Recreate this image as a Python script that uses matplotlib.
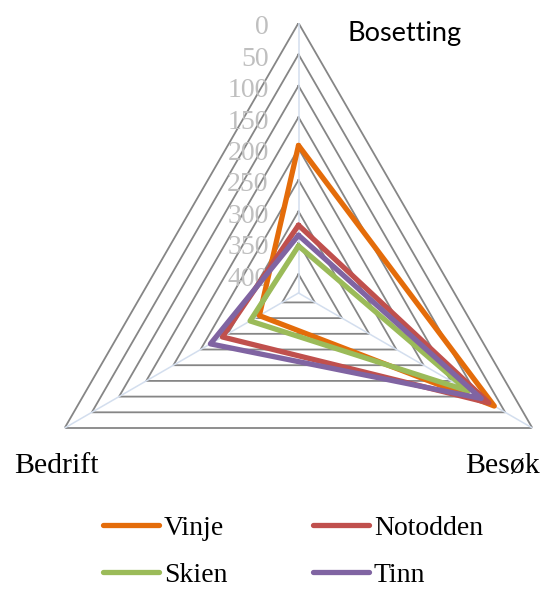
import numpy as np
import matplotlib
matplotlib.use("Agg")
import matplotlib.pyplot as plt

CATEGORIES = ["Bosetting", "Besøk", "Bedrift"]
SERIES = ["Vinje", "Notodden", "Skien", "Tinn"]
VINJE = [195, 70, 358]
NOTODDEN = [322, 80, 290]
SKIEN = [355, 118, 341]
TINN = [338, 94, 268]
TICKS = [0, 50, 100, 150, 200, 250, 300, 350, 400]
AXIS_MAX = 430

COLORS = ["#E46C0A", "#C0504D", "#9BBB59", "#8064A2"]
GRID = "#868686"
SPOKE = "#D3DEEE"
SERIF = "Liberation Serif"

W, H = 544, 591
fig = plt.figure(figsize=(W / 100, H / 100), dpi=100)

# axes placed so the chart centre sits at (298.5, 293) px with radius 270 px
cx, cy, rad = 298.5, 293, 270
ax = fig.add_axes([(cx - rad) / W, (H - cy - rad) / H, 2 * rad / W, 2 * rad / H],
                  projection="polar")
ax.set_theta_offset(np.pi / 2)
ax.set_theta_direction(-1)
ax.set_ylim(AXIS_MAX, 0)  # reversed scale: 0 at the rim
ax.grid(False)
ax.set_xticks([])
ax.set_yticks([])
ax.spines["polar"].set_visible(False)
ax.patch.set_alpha(0)

theta = np.linspace(0, 2 * np.pi, len(CATEGORIES), endpoint=False)
closed = np.append(theta, theta[0])

for v in TICKS:
    ax.plot(closed, [v] * len(closed), color=GRID, lw=1.3, zorder=1)
for t in theta:
    ax.plot([t, t], [0, AXIS_MAX], color=SPOKE, lw=1.1, zorder=1.5)

for v in TICKS:
    ax.annotate(str(v), xy=(0, v), xytext=(-21.5, -3.5), textcoords="offset points",
                ha="right", va="center", fontsize=20, color="#BFBFBF",
                family=SERIF, annotation_clip=False)

handles = []
for name, vals, col in zip(SERIES, [VINJE, NOTODDEN, SKIEN, TINN], COLORS):
    line, = ax.plot(closed, vals + vals[:1], color=col, lw=3.8, zorder=3,
                    solid_capstyle="round", label=name)
    handles.append(line)

fig.text(347 / W, 1 - 34 / H, CATEGORIES[0], fontsize=19.5, family="Lato",
         ha="left", va="center")
fig.text(540 / W, 1 - 466 / H, CATEGORIES[1], fontsize=21.5, family=SERIF,
         ha="right", va="center")
fig.text(14 / W, 1 - 466 / H, CATEGORIES[2], fontsize=21.5, family=SERIF,
         ha="left", va="center")

# legend fills column by column, so reorder to read Vinje, Notodden / Skien, Tinn
order = [0, 2, 1, 3]
fig.legend(handles=[handles[i] for i in order], loc="center",
           bbox_to_anchor=(293 / W, 1 - 551.5 / H),
           ncol=2, frameon=False, prop={"family": SERIF, "size": 20},
           handlelength=2.0, handletextpad=0.18, columnspacing=3.1,
           labelspacing=0.78, borderpad=0, borderaxespad=0)

fig.savefig("out.png", dpi=100)
